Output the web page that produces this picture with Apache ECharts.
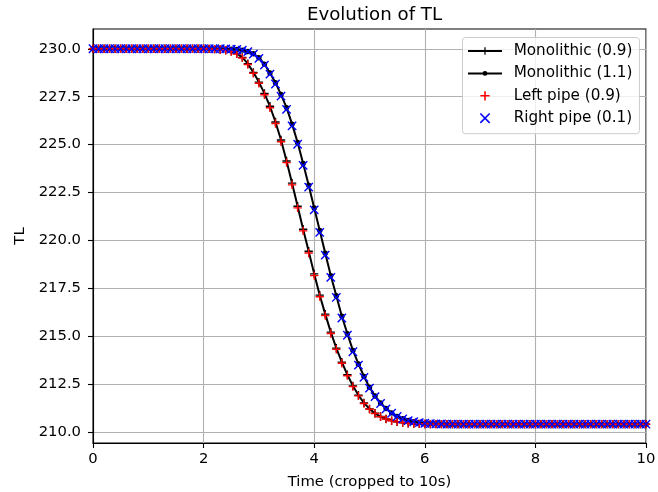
<!DOCTYPE html>
<html>
<head>
<meta charset="utf-8">
<script src="https://cdn.jsdelivr.net/npm/echarts@6/dist/echarts.min.js"></script>
<style>
  html, body { margin: 0; padding: 0; background: #fff; }
  #chart { width: 658px; height: 492px; }
</style>
</head>
<body>
<div id="chart"></div>
<script>
// sample times (s)
const timeS = [
  0, 0.1, 0.2, 0.3, 0.4, 0.5, 0.6, 0.7, 0.8, 0.9,
  1, 1.1, 1.2, 1.3, 1.4, 1.5, 1.6, 1.7, 1.8, 1.9,
  2, 2.1, 2.2, 2.3, 2.4, 2.5, 2.6, 2.7, 2.8, 2.9,
  3, 3.1, 3.2, 3.3, 3.4, 3.5, 3.6, 3.7, 3.8, 3.9,
  4, 4.1, 4.2, 4.3, 4.4, 4.5, 4.6, 4.7, 4.8, 4.9,
  5, 5.1, 5.2, 5.3, 5.4, 5.5, 5.6, 5.7, 5.8, 5.9,
  6, 6.1, 6.2, 6.3, 6.4, 6.5, 6.6, 6.7, 6.8, 6.9,
  7, 7.1, 7.2, 7.3, 7.4, 7.5, 7.6, 7.7, 7.8, 7.9,
  8, 8.1, 8.2, 8.3, 8.4, 8.5, 8.6, 8.7, 8.8, 8.9,
  9, 9.1, 9.2, 9.3, 9.4, 9.5, 9.6, 9.7, 9.8, 9.9,
  10
];

const mono09 = [
  230, 230, 230, 230, 230, 230, 230, 230, 230, 230,
  230, 230, 230, 230, 230, 230, 230, 230, 230, 230,
  230, 229.99, 229.98, 229.96, 229.93, 229.86, 229.75, 229.55, 229.22, 228.77,
  228.26, 227.67, 227.0, 226.18, 225.24, 224.15, 222.99, 221.79, 220.59, 219.44,
  218.26, 217.15, 216.16, 215.22, 214.39, 213.66, 213.0, 212.42, 211.93, 211.53,
  211.22, 210.99, 210.82, 210.7, 210.61, 210.55, 210.5, 210.47, 210.45, 210.44,
  210.43, 210.42, 210.42, 210.42, 210.42, 210.42, 210.42, 210.42, 210.42, 210.42,
  210.42, 210.42, 210.42, 210.42, 210.42, 210.42, 210.42, 210.42, 210.42, 210.42,
  210.42, 210.42, 210.42, 210.42, 210.42, 210.42, 210.42, 210.42, 210.42, 210.42,
  210.42, 210.42, 210.42, 210.42, 210.42, 210.42, 210.42, 210.42, 210.42, 210.42,
  210.42
];

const mono11 = [
  230, 230, 230, 230, 230, 230, 230, 230, 230, 230,
  230, 230, 230, 230, 230, 230, 230, 230, 230, 230,
  230, 230, 230, 230, 229.99, 229.98, 229.96, 229.93, 229.86, 229.74,
  229.53, 229.2, 228.74, 228.23, 227.61, 226.93, 226.07, 225.11, 224.02, 222.88,
  221.7, 220.52, 219.34, 218.17, 217.12, 216.05, 215.14, 214.27, 213.56, 212.91,
  212.34, 211.89, 211.53, 211.24, 211.01, 210.83, 210.71, 210.62, 210.55, 210.5,
  210.47, 210.45, 210.44, 210.43, 210.42, 210.42, 210.42, 210.42, 210.42, 210.42,
  210.42, 210.42, 210.42, 210.42, 210.42, 210.42, 210.42, 210.42, 210.42, 210.42,
  210.42, 210.42, 210.42, 210.42, 210.42, 210.42, 210.42, 210.42, 210.42, 210.42,
  210.42, 210.42, 210.42, 210.42, 210.42, 210.42, 210.42, 210.42, 210.42, 210.42,
  210.42
];

const leftPipe = [
  230, 230, 230, 230, 230, 230, 230, 230, 230, 230,
  230, 230, 230, 230, 230, 230, 230, 230, 230, 230,
  230, 229.99, 229.98, 229.96, 229.92, 229.85, 229.73, 229.52, 229.18, 228.72,
  228.2, 227.6, 226.92, 226.1, 225.15, 224.06, 222.9, 221.7, 220.5, 219.35,
  218.17, 217.07, 216.08, 215.15, 214.32, 213.6, 212.95, 212.38, 211.9, 211.5,
  211.2, 210.98, 210.81, 210.69, 210.6, 210.54, 210.5, 210.47, 210.45, 210.44,
  210.43, 210.42, 210.42, 210.42, 210.42, 210.42, 210.42, 210.42, 210.42, 210.42,
  210.42, 210.42, 210.42, 210.42, 210.42, 210.42, 210.42, 210.42, 210.42, 210.42,
  210.42, 210.42, 210.42, 210.42, 210.42, 210.42, 210.42, 210.42, 210.42, 210.42,
  210.42, 210.42, 210.42, 210.42, 210.42, 210.42, 210.42, 210.42, 210.42, 210.42,
  210.42
];

const rightPipe = [
  230, 230, 230, 230, 230, 230, 230, 230, 230, 230,
  230, 230, 230, 230, 230, 230, 230, 230, 230, 230,
  230, 230, 230, 230, 229.99, 229.98, 229.96, 229.92, 229.85, 229.72,
  229.5, 229.15, 228.68, 228.16, 227.53, 226.84, 225.98, 225.02, 223.92, 222.78,
  221.6, 220.42, 219.24, 218.08, 217.03, 215.96, 215.06, 214.2, 213.5, 212.86,
  212.3, 211.86, 211.5, 211.22, 210.99, 210.82, 210.7, 210.61, 210.55, 210.5,
  210.47, 210.45, 210.44, 210.43, 210.42, 210.42, 210.42, 210.42, 210.42, 210.42,
  210.42, 210.42, 210.42, 210.42, 210.42, 210.42, 210.42, 210.42, 210.42, 210.42,
  210.42, 210.42, 210.42, 210.42, 210.42, 210.42, 210.42, 210.42, 210.42, 210.42,
  210.42, 210.42, 210.42, 210.42, 210.42, 210.42, 210.42, 210.42, 210.42, 210.42,
  210.42
];

const yTicks = [210, 212.5, 215, 217.5, 220, 222.5, 225, 227.5, 230];

// marker shapes, padded to a 12x12 box so legend and plot sizes agree
const PLUS = "path://M0,0M12,12M5.33,2H6.67V10H5.33ZM2,5.33H10V6.67H2Z";
const CROSS = "path://M0,0M12,12M2.477,1.523L10.477,9.523L9.523,10.477L1.523,2.477Z" +
  "M10.477,2.477L2.477,10.477L1.523,9.523L9.523,1.523Z";
const DOT = "path://M0,0M12,12M3.4,6A2.6,2.6,0,1,1,8.6,6A2.6,2.6,0,1,1,3.4,6Z";

const FONT = "DejaVu Sans";
const pairs = (vals) => timeS.map((t, i) => [t, vals[i]]);

const chart = echarts.init(document.getElementById("chart"));

const option = {
  animation: false,
  textStyle: { fontFamily: FONT },
  title: {
    text: "Evolution of TL",
    left: 369.5,
    top: 1.5,
    textAlign: "center",
    textStyle: { fontFamily: FONT, fontSize: 18.2, fontWeight: "normal", color: "#000" },
  },
  grid: {
    left: 93,
    right: 12,
    top: 29,
    bottom: 49,
    outerBoundsMode: "none",
    show: true,
    borderColor: "#000",
    borderWidth: 1.1,
  },
  legend: {
    orient: "vertical",
    left: 462.5,
    top: 37.5,
    padding: [6, 7, 8, 4.5],
    itemWidth: 34,
    itemHeight: 14,
    itemGap: 7.4,
    backgroundColor: "rgba(255,255,255,0.8)",
    borderColor: "#cccccc",
    borderWidth: 1,
    borderRadius: 3,
    selectedMode: false,
    textStyle: { fontFamily: FONT, fontSize: 15.2, color: "#000", padding: [0, 0, 0, 6.7] },
    data: ["Monolithic (0.9)", "Monolithic (1.1)", "Left pipe (0.9)", "Right pipe (0.1)"],
  },
  xAxis: {
    type: "value",
    min: 0,
    max: 10,
    interval: 2,
    name: "Time (cropped to 10s)",
    nameLocation: "middle",
    nameGap: 32,
    nameTextStyle: { fontFamily: FONT, fontSize: 14.8, color: "#000" },
    axisLine: { show: true, lineStyle: { color: "#000", width: 1.1 } },
    axisTick: { show: true, length: 5, lineStyle: { color: "#000", width: 1.1 } },
    axisLabel: { margin: 9, fontFamily: FONT, fontSize: 14.8, color: "#000" },
    splitLine: { show: true, lineStyle: { color: "#b0b0b0", width: 1.1 } },
  },
  yAxis: {
    type: "value",
    min: 209.44,
    max: 231.03,
    name: "TL",
    nameLocation: "middle",
    nameGap: 61.5,
    nameTextStyle: { fontFamily: FONT, fontSize: 14.8, color: "#000" },
    axisLine: { show: true, lineStyle: { color: "#000", width: 1.1 } },
    axisTick: { show: true, length: 5, customValues: yTicks, lineStyle: { color: "#000", width: 1.1 } },
    axisLabel: {
      margin: 12,
      customValues: yTicks,
      fontFamily: FONT,
      fontSize: 14.8,
      color: "#000",
      formatter: (v) => Number(v).toFixed(1),
    },
    splitLine: { show: true, lineStyle: { color: "#b0b0b0", width: 1.1 } },
  },
  series: [
    {
      name: "Monolithic (0.9)",
      type: "line",
      z: 3,
      data: pairs(mono09),
      symbol: PLUS,
      symbolSize: 12.5,
      symbolKeepAspect: true,
      showSymbol: true,
      itemStyle: { color: "#000" },
      lineStyle: { color: "#000", width: 2 },
      emphasis: { disabled: true },
    },
    {
      name: "Monolithic (1.1)",
      type: "line",
      z: 3,
      data: pairs(mono11),
      symbol: DOT,
      symbolSize: 12.5,
      symbolKeepAspect: true,
      showSymbol: true,
      itemStyle: { color: "#000" },
      lineStyle: { color: "#000", width: 2 },
      emphasis: { disabled: true },
    },
    {
      name: "Left pipe (0.9)",
      type: "scatter",
      z: 4,
      data: pairs(leftPipe),
      symbol: PLUS,
      symbolSize: 12.5,
      symbolKeepAspect: true,
      itemStyle: { color: "#ff0000", opacity: 1 },
      emphasis: { disabled: true },
    },
    {
      name: "Right pipe (0.1)",
      type: "scatter",
      z: 5,
      data: pairs(rightPipe),
      symbol: CROSS,
      symbolSize: 12.5,
      symbolKeepAspect: true,
      itemStyle: { color: "#0000ff", opacity: 1 },
      emphasis: { disabled: true },
    },
  ],
};

chart.setOption(option);
</script>
</body>
</html>
